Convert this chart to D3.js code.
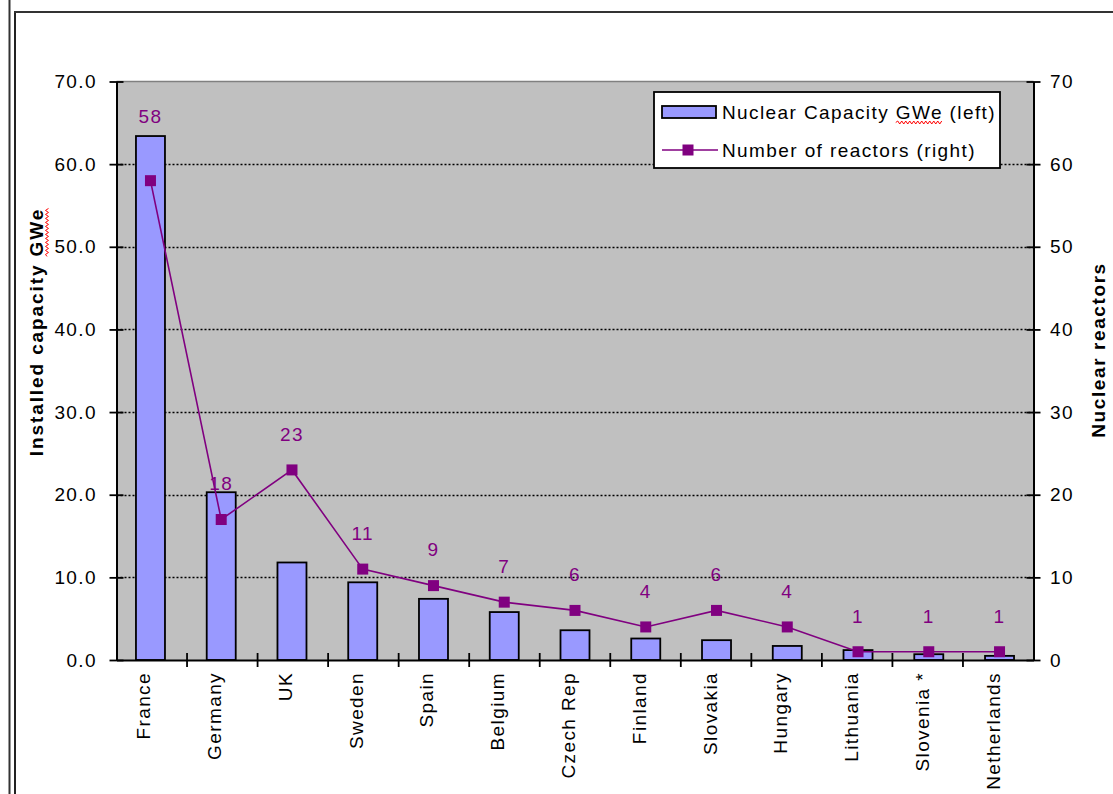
<!DOCTYPE html>
<html><head><meta charset="utf-8">
<script src="https://cdn.jsdelivr.net/npm/d3@7"></script>
<style>
body{margin:0;background:#fff;}
svg text{font-family:"Liberation Sans",Arial,sans-serif;font-size:19px;letter-spacing:1.4px;}
</style>
</head><body>
<svg id="c" width="1113" height="794"></svg>
<script>
const countries = ["France","Germany","UK","Sweden","Spain","Belgium","Czech Rep","Finland","Slovakia","Hungary","Lithuania","Slovenia *","Netherlands"];
const capacityGWe = [63.4,20.3,11.8,9.4,7.4,5.8,3.6,2.6,2.4,1.7,1.2,0.7,0.5];
const reactors = [58,17,23,11,9,7,6,4,6,4,1,1,1];
const reactorLabels = ["58","18","23","11","9","7","6","4","6","4","1","1","1"];
const leftTicks = [0,10,20,30,40,50,60,70];
const rightTicks = [0,10,20,30,40,50,60,70];
const legendLabels = ["Nuclear Capacity GWe (left)","Number of reactors (right)"];
const leftTitle = "Installed capacity GWe";
const rightTitle = "Nuclear reactors";

const svg = d3.select("#c");
const L = 116.5, R = 1033.5, T = 81.5, B = 660;
const purple = "#800080";

// frame lines
svg.append("line").attr("x1",9.5).attr("x2",9.5).attr("y1",0).attr("y2",794).attr("stroke","#333").attr("stroke-width",2);
svg.append("line").attr("x1",15).attr("x2",15).attr("y1",11).attr("y2",794).attr("stroke","#222").attr("stroke-width",2);
svg.append("line").attr("x1",14).attr("x2",1113).attr("y1",12).attr("y2",12).attr("stroke","#333").attr("stroke-width",2);

const x = d3.scaleBand().domain(countries).range([L,R]).paddingInner(0.59).paddingOuter(0.275);
const yL = d3.scaleLinear().domain([0,70]).range([B,T]);
const yR = d3.scaleLinear().domain([0,70]).range([B,T]);

// plot area
svg.append("rect").attr("x",L).attr("y",T).attr("width",R-L).attr("height",B-T).attr("fill","#c0c0c0");
svg.append("line").attr("x1",L).attr("x2",R).attr("y1",T).attr("y2",T).attr("stroke","#808080").attr("stroke-width",1.5);

// gridlines
svg.append("g").selectAll("line").data(leftTicks.filter(d=>d>0 && d<70)).join("line")
  .attr("x1",L).attr("x2",R).attr("y1",d=>Math.round(yL(d))+0.5).attr("y2",d=>Math.round(yL(d))+0.5)
  .attr("stroke","#000").attr("stroke-width",1.3).attr("stroke-dasharray","2,2");

// bars
svg.append("g").selectAll("rect").data(countries).join("rect")
  .attr("x",d=>x(d)).attr("width",x.bandwidth())
  .attr("y",(d,i)=>yL(capacityGWe[i])).attr("height",(d,i)=>B-yL(capacityGWe[i]))
  .attr("fill","#9999ff").attr("stroke","#000").attr("stroke-width",1.8);

// axes
const axL = svg.append("g").attr("transform",`translate(${L},0)`)
  .call(d3.axisLeft(yL).tickValues(leftTicks).tickFormat(d3.format(".1f")).tickSize(7).tickSizeOuter(0).tickPadding(12.5));
axL.selectAll(".tick line").attr("x1",-7).attr("x2",7).attr("stroke-width",1.8);
const axR = svg.append("g").attr("transform",`translate(${R},0)`)
  .call(d3.axisRight(yR).tickValues(rightTicks).tickFormat(d3.format("d")).tickSize(7).tickSizeOuter(0).tickPadding(9.5));
axR.selectAll(".tick line").attr("x1",-7).attr("x2",7).attr("stroke-width",1.8);
const axB = svg.append("g").attr("transform",`translate(0,${B})`)
  .call(d3.axisBottom(x).tickSize(0).tickSizeOuter(0));
axB.selectAll(".tick text").attr("transform","rotate(-90)").attr("x",-12).attr("y",0).attr("dy",0).attr("text-anchor","end");
// category boundary ticks
const bounds = d3.range(1, countries.length).map(i => L + i*(R-L)/countries.length);
svg.append("g").selectAll("line").data(bounds).join("line")
  .attr("x1",d=>d).attr("x2",d=>d).attr("y1",B-7).attr("y2",B+7).attr("stroke","#000").attr("stroke-width",1.8);
[axL,axR,axB].forEach(a=>{
  a.select(".domain").attr("stroke","#000").attr("stroke-width",2);
  a.selectAll("text").attr("fill","#000").style("font-size","19px").style("font-family","'Liberation Sans',Arial,sans-serif");
});

// line series
const cx = d => x(d) + x.bandwidth()/2;
svg.append("path").datum(countries)
  .attr("d", d3.line().x(d=>cx(d)).y((d,i)=>yR(reactors[i])))
  .attr("fill","none").attr("stroke",purple).attr("stroke-width",1.6);
svg.append("g").selectAll("rect").data(countries).join("rect")
  .attr("x",d=>cx(d)-5.5).attr("y",(d,i)=>yR(reactors[i])-5.5).attr("width",11).attr("height",11)
  .attr("fill",purple);
// labels sit above the marker; if that would land inside the bar, lift above the bar
const labelY = i => { const a = yR(reactors[i]) - 36; const top = yL(capacityGWe[i]); return a > top ? top - 20 : a; };
svg.append("g").selectAll("text").data(countries).join("text")
  .attr("x",d=>cx(d)).attr("y",(d,i)=>labelY(i)).attr("dy","0.36em")
  .attr("text-anchor","middle").attr("fill",purple).text((d,i)=>reactorLabels[i]);

// squiggle helper
function squiggle(g, textEl, startIdx, endIdx, yOff){
  const x0 = textEl.getStartPositionOfChar(startIdx).x;
  const x1 = textEl.getEndPositionOfChar(endIdx).x;
  const y0 = textEl.getStartPositionOfChar(startIdx).y + yOff;
  let p = `M${x0},${y0}`; let up = true;
  for (let xx = x0 + 2; xx <= x1; xx += 2){ p += `L${xx},${y0 + (up?-1.5:1.5)}`; up = !up; }
  g.append("path").attr("d",p).attr("fill","none").attr("stroke","#ff0000").attr("stroke-width",1);
}

// legend
const lg = svg.append("g");
lg.append("rect").attr("x",654).attr("y",92).attr("width",346).attr("height",76).attr("fill","#fff").attr("stroke","#000").attr("stroke-width",1.8);
lg.append("rect").attr("x",662).attr("y",106).attr("width",54).attr("height",12).attr("fill","#9999ff").attr("stroke","#000").attr("stroke-width",1.8);
const t1 = lg.append("text").attr("x",722).attr("y",118.5).attr("fill","#000").text(legendLabels[0]);
lg.append("line").attr("x1",662).attr("x2",718).attr("y1",150).attr("y2",150).attr("stroke",purple).attr("stroke-width",1.6);
lg.append("rect").attr("x",682.5).attr("y",144.5).attr("width",11).attr("height",11).attr("fill",purple);
lg.append("text").attr("x",722).attr("y",157).attr("fill","#000").text(legendLabels[1]);
{ const s = legendLabels[0]; const i = s.indexOf("GWe"); squiggle(lg, t1.node(), i, i+2, 4); }

// axis titles
const gl = svg.append("g").attr("transform","translate(43,332) rotate(-90)");
const tl = gl.append("text").attr("text-anchor","middle").attr("font-weight","bold").style("letter-spacing","1.9px").attr("fill","#000").text(leftTitle);
{ const i = leftTitle.indexOf("GWe"); squiggle(gl, tl.node(), i, i+2, 4); }
svg.append("g").attr("transform","translate(1105,350) rotate(-90)")
  .append("text").attr("text-anchor","middle").attr("font-weight","bold").style("letter-spacing","1.6px").attr("fill","#000").text(rightTitle);
</script>
</body></html>
